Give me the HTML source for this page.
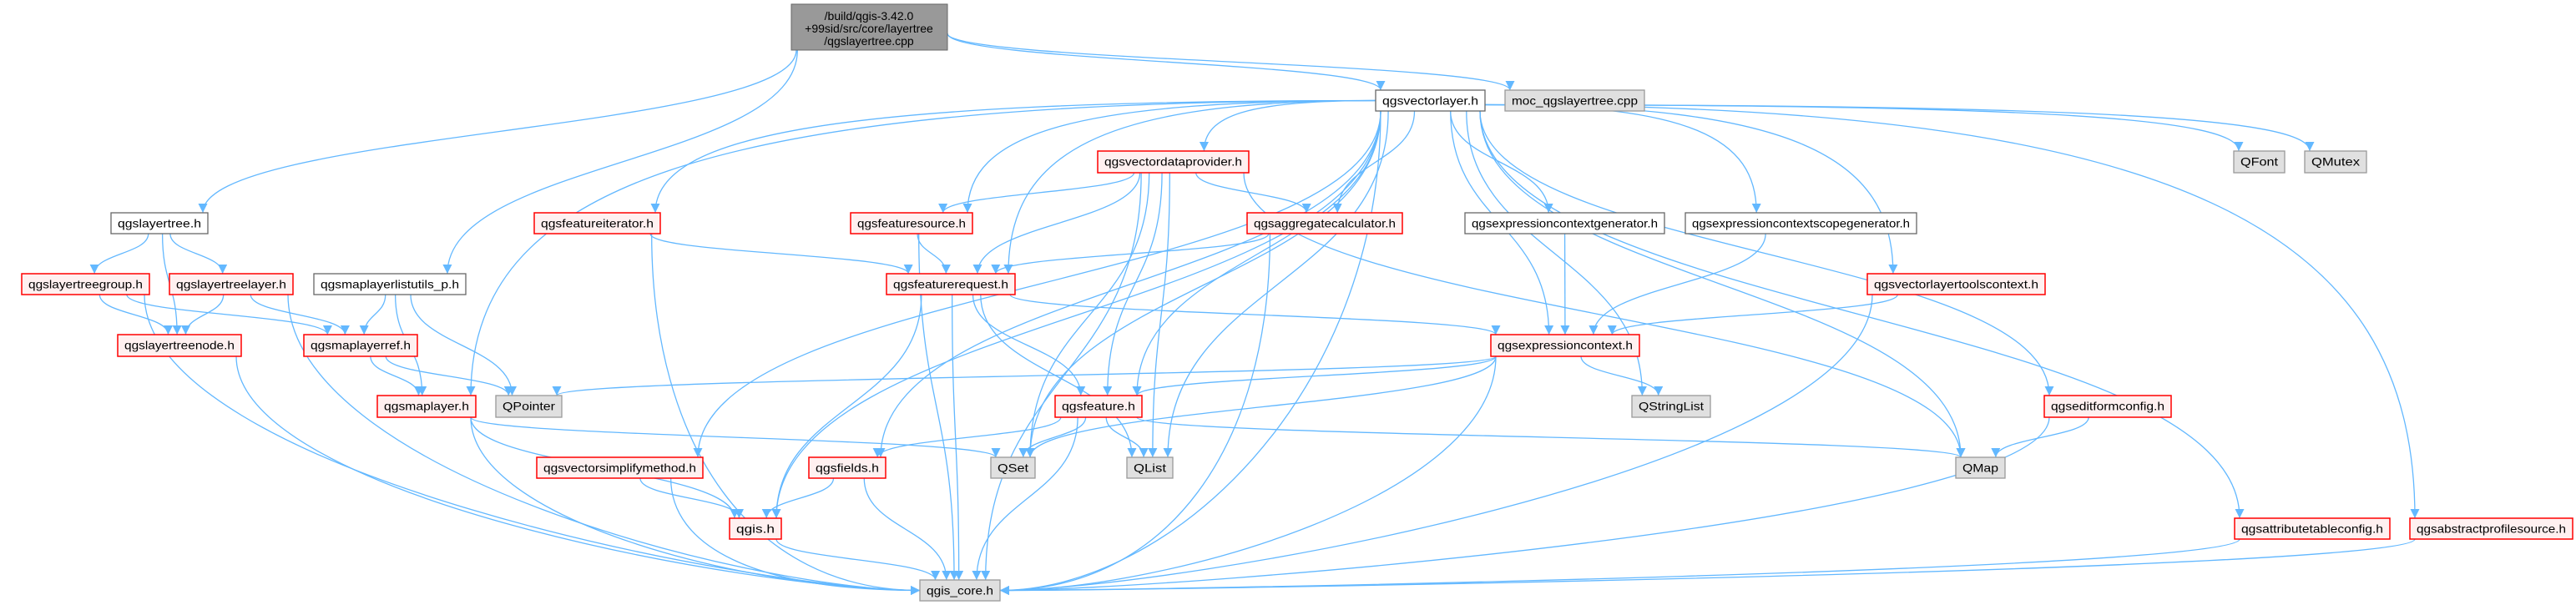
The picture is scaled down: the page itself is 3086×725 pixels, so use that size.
<!DOCTYPE html>
<html><head><meta charset="utf-8"><style>
html,body{margin:0;padding:0;background:#fff;}
svg{display:block;}
text{font-family:"Liberation Sans","DejaVu Sans",sans-serif;font-size:14px;fill:#000;}
</style></head><body>
<svg id="g" width="3086" height="725" viewBox="0 0 3086 725" xmlns="http://www.w3.org/2000/svg">
<defs><marker id="a" viewBox="0 0 10 10" refX="10" refY="5" markerWidth="11" markerHeight="11" markerUnits="userSpaceOnUse" orient="auto"><path d="M0,0 L10,5 L0,10 z" fill="#63b8ff"/></marker></defs>
<g id="edges" fill="none" stroke="#63b8ff" stroke-width="1.3"></g>
<g id="nodes">
<rect x="948" y="5" width="187" height="55" fill="#999" stroke="#666"/>
<text x="1041" y="24" text-anchor="middle">/build/qgis-3.42.0</text>
<text x="1041" y="39" text-anchor="middle">+99sid/src/core/layertree</text>
<text x="1041" y="54" text-anchor="middle">/qgslayertree.cpp</text>
</g>
</svg>
<script>
var N={
vl:[1648,108,1779,133,'qgsvectorlayer.h','w'],
moc:[1803,108,1970,133,'moc_qgslayertree.cpp','g'],
lt:[133,255,249,280,'qgslayertree.h','w'],
ltg:[26,328,179,353,'qgslayertreegroup.h','r'],
ltl:[203,328,351,353,'qgslayertreelayer.h','r'],
mlu:[376,328,558,353,'qgsmaplayerlistutils_p.h','w'],
fi:[640,255,791,280,'qgsfeatureiterator.h','r'],
ltn:[141,401,289,427,'qgslayertreenode.h','r'],
mlr:[364,401,500,427,'qgsmaplayerref.h','r'],
ml:[452,474,570,500,'qgsmaplayer.h','r'],
qp:[594,474,673,500,'QPointer','g'],
vsm:[643,548,842,573,'qgsvectorsimplifymethod.h','r'],
qgis:[874,621,936,646,'qgis.h','r'],
fld:[969,548,1061,573,'qgsfields.h','r'],
vdp:[1315,181,1496,207,'qgsvectordataprovider.h','r'],
fs:[1019,255,1165,280,'qgsfeaturesource.h','r'],
ac:[1494,255,1680,280,'qgsaggregatecalculator.h','r'],
ecg:[1755,255,1994,280,'qgsexpressioncontextgenerator.h','w'],
ecsg:[2019,255,2296,280,'qgsexpressioncontextscopegenerator.h','w'],
fr:[1062,328,1216,353,'qgsfeaturerequest.h','r'],
ec:[1786,401,1964,427,'qgsexpressioncontext.h','r'],
qsl:[1955,474,2049,500,'QStringList','g'],
fe:[1264,474,1368,500,'qgsfeature.h','r'],
qs:[1187,548,1240,573,'QSet','g'],
ql:[1350,548,1405,573,'QList','g'],
core:[1102,695,1198,720,'qgis_core.h','g'],
qf:[2676,181,2737,207,'QFont','g'],
qm:[2761,181,2835,207,'QMutex','g'],
vltc:[2237,328,2450,353,'qgsvectorlayertoolscontext.h','r'],
efc:[2449,474,2601,500,'qgseditformconfig.h','r'],
qmap:[2343,548,2402,573,'QMap','g'],
atc:[2677,621,2863,646,'qgsattributetableconfig.h','r'],
aps:[2887,621,3082,646,'qgsabstractprofilesource.h','r'],
root:[948,5,1135,60,'','x']
};
var ns="http://www.w3.org/2000/svg";
var G=document.getElementById('nodes');
for(var k in N){var n=N[k];if(n[5]=='x')continue;
 var r=document.createElementNS(ns,'rect');
 r.setAttribute('x',n[0]);r.setAttribute('y',n[1]);r.setAttribute('width',n[2]-n[0]);r.setAttribute('height',n[3]-n[1]);
 var f={w:'#ffffff',g:'#e0e0e0',r:'#fff0f0'}[n[5]],s={w:'#666666',g:'#999999',r:'#ff0000'}[n[5]];
 r.setAttribute('fill',f);r.setAttribute('stroke',s);r.setAttribute('stroke-width',n[5]=='r'?1.5:1.3);G.appendChild(r);
 var t=document.createElementNS(ns,'text');t.setAttribute('x',(n[0]+n[2])/2);t.setAttribute('y',n[1]+17.5);
 t.setAttribute('text-anchor','middle');var w=n[2]-n[0]-16;
 t.setAttribute('textLength',w);t.setAttribute('lengthAdjust','spacingAndGlyphs');t.textContent=n[4];G.appendChild(t);}
var E=[['root','lt'],['root','mlu'],['root','vl'],['root','moc'],
['lt','ltg'],['lt','ltl'],['lt','ltn'],
['ltg','ltn'],['ltg','mlr'],['ltg','core'],
['ltl','ltn'],['ltl','mlr'],['ltl','core'],
['mlu','mlr'],['mlu','ml'],['mlu','qp'],
['ltn','core'],['mlr','ml'],['mlr','qp'],
['ml','core'],['ml','qgis'],['ml','qs'],
['vsm','qgis'],['vsm','core'],['qgis','core'],['fld','qgis'],['fld','core'],
['fi','fr'],['fi','core'],
['vl','ml'],['vl','fi'],['vl','vsm'],['vl','qgis'],['vl','fld'],['vl','fs'],['vl','fr'],['vl','qs'],['vl','vdp'],['vl','ac'],['vl','fe'],['vl','ql'],['vl','ecg'],['vl','ecsg'],['vl','ec'],['vl','qsl'],['vl','vltc'],['vl','qmap'],['vl','efc'],['vl','qf'],['vl','qm'],['vl','atc'],['vl','aps'],['vl','core'],
['vdp','fs'],['vdp','fr'],['vdp','ac'],['vdp','fe'],['vdp','qs'],['vdp','ql'],['vdp','core'],['vdp','qmap'],
['fs','fr'],['fs','core'],['ac','fr'],['ac','core'],
['fr','ec'],['fr','fe'],['fr','qgis'],['fr','ql'],['fr','core'],
['ecg','ec'],['ecsg','ec'],['vltc','ec'],['vltc','core'],
['ec','qp'],['ec','fe'],['ec','qs'],['ec','qsl'],['ec','core'],
['fe','fld'],['fe','qs'],['fe','ql'],['fe','qmap'],['fe','core'],
['efc','qmap'],['efc','core'],['atc','core'],['aps','core']];
var EG=document.getElementById('edges');
E.forEach(function(e){var s=N[e[0]],t=N[e[1]],d;
 var scx=(s[0]+s[2])/2,tcx=(t[0]+t[2])/2;
 if(t[1]>=s[3]+10){
  var sx=scx+Math.max(-(s[2]-s[0])/2+6,Math.min((s[2]-s[0])/2-6,(tcx-scx)*0.15));
  var tx=tcx+Math.max(-(t[2]-t[0])/2+6,Math.min((t[2]-t[0])/2-6,(scx-tcx)*0.12));
  var sy=s[3],ty=t[1];
  if(e[0]=='root'&&(e[1]=='vl'||e[1]=='moc')){sx=s[2];sy=40;}
  if(e[1]=='core'&&Math.abs(tcx-scx)>300){tx=scx<tcx?t[0]:t[2];ty=(t[1]+t[3])/2;
   d='M'+sx+','+sy+' C'+sx+','+(sy+(ty-sy)*0.6)+' '+(tx+(scx<tcx?-200:200))+','+ty+' '+tx+','+ty;}
  else if(e[0]=='vl'&&Math.abs(tcx-scx)>2.5*(ty-sy)){
   sx=scx<tcx?s[2]:s[0];sy=(s[1]+s[3])/2+ (scx<tcx?5:0);
   d='M'+sx+','+sy+' C'+(tx-(tx-sx)*0.25)+','+sy+' '+tx+','+(sy+(ty-sy)*0.3)+' '+tx+','+ty;}
  else{var m=(ty-sy)*0.5;d='M'+sx+','+sy+' C'+sx+','+(sy+m)+' '+tx+','+(ty-m)+' '+tx+','+ty;}
 } else {
  var sx2=scx<tcx?s[2]:s[0],tx2=scx<tcx?t[0]:t[2],sy2=(s[1]+s[3])/2,ty2=(t[1]+t[3])/2;
  if(t[1]>s[3]){sy2=s[3];}
  d='M'+sx2+','+sy2+' C'+((sx2+tx2)/2)+','+sy2+' '+((sx2+tx2)/2)+','+ty2+' '+tx2+','+ty2;}
 var p=document.createElementNS(ns,'path');p.setAttribute('d',d);p.setAttribute('marker-end','url(#a)');EG.appendChild(p);});
</script>
</body></html>
